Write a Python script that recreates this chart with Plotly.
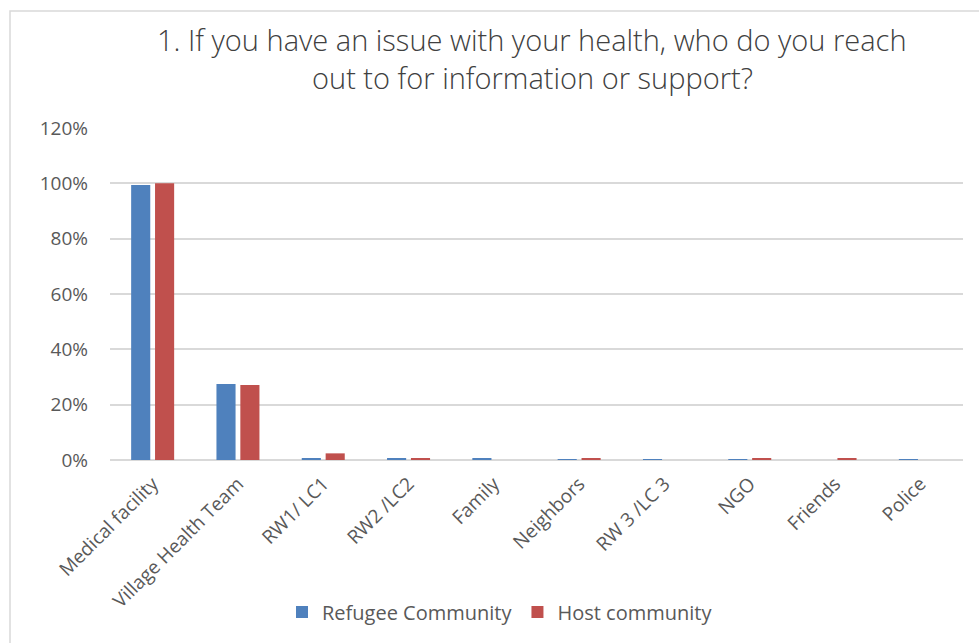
import plotly.graph_objects as go

# Survey question 1: who respondents reach out to about health issues
categories = ["Medical facility", "Village Health Team", "RW1/ LC1", "RW2 /LC2",
              "Family", "Neighbors", "RW 3 /LC 3", "NGO", "Friends", "Police"]
refugee_share = [0.994, 0.275, 0.005, 0.005, 0.005, 0.002, 0.002, 0.002, 0.0, 0.002]
host_share = [1.0, 0.271, 0.024, 0.005, 0.0, 0.005, 0.0, 0.005, 0.005, 0.0]
y_ticks = [0, 0.2, 0.4, 0.6, 0.8, 1.0, 1.2]
title_lines = ["1. If you have an issue with your health, who do you reach",
               "out to for information or support?"]

W, H = 979, 643
L, R, T, B = 110, 16, 128, 183
pw, ph = W - L - R, H - T - B

def px_x(x):
    return (x - L) / pw

def px_y(y):
    return (H - B - y) / ph

label_font = dict(family="Open Sans", size=19, color="#595959")

fig = go.Figure()
fig.add_trace(go.Bar(name="Refugee Community", x=categories, y=refugee_share,
                     marker=dict(color="#4F81BD", line=dict(width=0))))
fig.add_trace(go.Bar(name="Host community", x=categories, y=host_share,
                     marker=dict(color="#C0504D", line=dict(width=0))))

fig.update_layout(
    width=W, height=H,
    margin=dict(l=L, r=R, t=T, b=B),
    paper_bgcolor="white", plot_bgcolor="white",
    barmode="group", bargap=0.44, bargroupgap=0.2,
    showlegend=True,
    legend=dict(orientation="h", x=px_x(500), xanchor="center",
                y=px_y(612), yanchor="middle",
                font=dict(family="Open Sans", size=20, color="#595959"),
                itemclick=False),
    xaxis=dict(tickangle=-45, tickfont=label_font, showgrid=False,
               showline=False, ticks="", ticklabelstandoff=8),
    yaxis=dict(range=[0, 1.2], tickvals=y_ticks, tickformat=".0%",
               tickfont=label_font, showgrid=True, gridcolor="#D9D9D9",
               gridwidth=1.5, zeroline=True, zerolinecolor="#D9D9D9",
               zerolinewidth=2, showline=False, ticks="",
               ticklabelstandoff=21),
)

# two-line chart title
for i, line in enumerate(title_lines):
    fig.add_annotation(text=line, xref="paper", yref="paper",
                       x=px_x(532), y=px_y(39 + 38 * i), xanchor="center",
                       yanchor="middle", showarrow=False,
                       font=dict(family="Open Sans", size=29, color="#404040",
                                 weight=300))

# chart area frame
fig.add_shape(type="rect", xref="paper", yref="paper",
              x0=px_x(10), x1=px_x(995), y0=px_y(660), y1=px_y(11),
              line=dict(color="#D9D9D9", width=1.5), fillcolor="rgba(0,0,0,0)",
              layer="below")

fig.write_html("out.html")
